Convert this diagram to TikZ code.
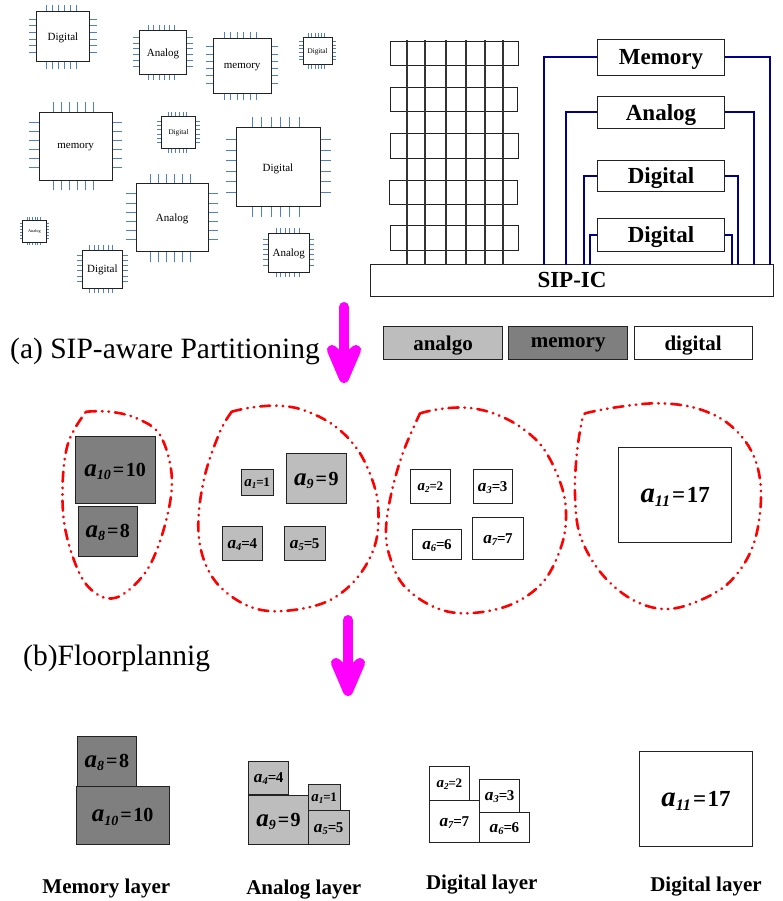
\documentclass[tikz,border=0pt]{standalone}
\usepackage{fontspec}
\setmainfont{Liberation Serif}
\usepackage{xcolor}
\usepackage{tikz}
\definecolor{pinblue}{HTML}{4F7FCB}
\definecolor{wirenavy}{HTML}{00008B}
\definecolor{barink}{HTML}{333333}
\definecolor{edgeink}{HTML}{222222}
\definecolor{analogfill}{HTML}{BDBDBD}
\definecolor{memoryfill}{HTML}{7F7F7F}
\definecolor{flowpink}{HTML}{FF00FF}
\definecolor{loopred}{HTML}{FF0000}
\tikzset{
  pin line/.style={draw=pinblue,line width=1pt},
  chip box/.style={draw=edgeink,line width=.9pt,fill=white,inner sep=0pt,outer sep=0pt,text depth=0pt},
  plain box/.style={draw=edgeink,line width=.8pt,inner sep=0pt,outer sep=0pt,text depth=0pt},
  wire/.style={draw=wirenavy,line width=2pt},
  group loop/.style={draw=loopred,line width=2.6pt,line cap=round,
    dash pattern=on 10pt off 6pt on .5pt off 6pt on .5pt off 6pt},
  layer name/.style={font=\bfseries\fontsize{21}{22}\selectfont},
  step label/.style={anchor=base west,inner sep=0pt,font=\fontsize{29.5}{31}\selectfont},
}
\newcommand{\chip}[8]{% name, x0, y0, x1, y1, pin length, font size, label
  \foreach \i in {0,...,5} {
    \draw[pin line] ({#2+(#4-#2)*(.195+.111*\i)},#3) -- ++(0,-#6);
    \draw[pin line] ({#2+(#4-#2)*(.195+.111*\i)},#5) -- ++(0,#6);
    \draw[pin line] (#2,{#3+(#5-#3)*(.15+.134*\i)}) -- ++(-#6,0);
    \draw[pin line] (#4,{#3+(#5-#3)*(.15+.134*\i)}) -- ++(#6,0);
  }
  \node[chip box,minimum width={(#4-#2)*1pt},minimum height={(#5-#3)*1pt},
    font=\fontsize{#7}{#7}\selectfont] (#1) at ({(#2+#4)/2},{(#3+#5)/2}) {#8};
}
\newcommand{\block}[8]{% name, fill, x0, y0, x1, y1, font size, text
  \node[plain box,fill=#2,minimum width={(#5-#3)*1pt},minimum height={(#6-#4)*1pt},
    font=\bfseries\fontsize{#7}{#7}\selectfont] (#1) at ({(#3+#5)/2},{(#4+#6)/2}) {#8};
}
\newcommand{\flowarrow}[3]{% name, x, top y
  \coordinate (#1) at (#2,#3);
  \draw[draw=flowpink,line width=10pt,line cap=round] (#1) -- ++(0,50);
  \filldraw[draw=flowpink,fill=flowpink,line width=10pt,line join=round]
    ([shift={(-12,43)}]#1) -- ([shift={(0,71)}]#1) -- ([shift={(12,43)}]#1)
    -- ([shift={(0,54)}]#1) -- cycle;
}
\newcommand{\tagwide}[2]{\textit{\scalebox{1.25}{a}\textsubscript{#1}}\kern1.5pt=\kern1.5pt#2}
\newcommand{\tagtight}[2]{\textit{\scalebox{1.15}{a}\textsubscript{#1}}\kern-.5pt=\kern-.5pt#2}

\begin{document}
\begin{tikzpicture}[x=1pt,y=-1pt,line join=miter]
\useasboundingbox (0,0) rectangle (783,901);
\fill[white] (0,0) rectangle (783,901);

% Scattered chips.
\chip{chipa}{36.3}{11.7}{89.7}{61.7}{7}{11}{Digital}
\chip{chipb}{139.3}{30.7}{186.7}{74.3}{6}{11}{Analog}
\chip{chipc}{213.3}{38.7}{271}{93}{7}{11}{memory}
\chip{chipd}{303}{37.3}{332.3}{64.7}{4}{7.2}{Digital}
\chip{chipe}{39.3}{112}{112}{180}{10}{11}{memory}
\chip{chipf}{161.7}{116.7}{195.3}{148.3}{4.3}{7.2}{Digital}
\chip{chipg}{236}{127.7}{320}{206.7}{10.5}{11}{Digital}
\chip{chiph}{136}{183.7}{208.3}{251.7}{10}{11}{Analog}
\chip{chipi}{22.7}{220.3}{46}{242}{3}{4.3}{Analog}
\chip{chipj}{82}{250}{122.7}{288}{5}{11}{Digital}
\chip{chipk}{268.3}{233.3}{309.3}{272}{5}{11}{Analog}

% Stack with through vias.
\draw[plain box] (390.3,41.3) rectangle (518,65.7);
\draw[plain box] (390,87.7) rectangle (517.7,111.7);
\draw[plain box] (390.3,133.7) rectangle (518,158);
\draw[plain box] (389.3,180.3) rectangle (517.3,204.7);
\draw[plain box] (390.3,225.7) rectangle (518,250);

\block{sip}{white}{370.7}{264.7}{773.3}{296}{23}{SIP-IC}
\foreach \x in {407.3,425.3,446,466,485.3,503.3}
  \draw[draw=barink,line width=2pt] (\x,40) -- (\x,0 |- sip.north);

% Dies wired to the interposer.
\block{dmemory}{white}{597.3}{39.3}{724.7}{75}{23}{Memory}
\block{danalog}{white}{597.3}{96.3}{724.7}{128.7}{23}{Analog}
\block{ddigitala}{white}{597.3}{160.7}{724.7}{191.3}{23}{Digital}
\block{ddigitalb}{white}{597.3}{218.7}{724.7}{251.3}{23}{Digital}
\draw[wire] (dmemory.west) -| (544.3,0 |- sip.north);
\draw[wire] (dmemory.east) -| (769.7,0 |- sip.north);
\draw[wire] (danalog.west) -| (566,0 |- sip.north);
\draw[wire] (danalog.east) -| (754.3,0 |- sip.north);
\draw[wire] (ddigitala.west) -| (584,0 |- sip.north);
\draw[wire] (ddigitala.east) -| (738.3,0 |- sip.north);
\draw[wire] (ddigitalb.west) -| (590,0 |- sip.north);
\draw[wire] (ddigitalb.east) -| (732,0 |- sip.north);

% Legend.
\block{keyanalog}{analogfill}{383.7}{326.3}{502.3}{359.3}{21}{analgo}
\block{keymemory}{memoryfill}{508.7}{326.3}{627.7}{359.3}{21}{memory}
\block{keydigital}{white}{634}{326.3}{752.3}{359.3}{21}{digital}

\node[step label] (stepa) at (10,358) {(a) SIP-aware Partitioning};
\node[step label] (stepb) at (23,665) {(b)Floorplannig};
\flowarrow{arrowa}{344}{307}
\flowarrow{arrowb}{348}{620}

% Groups after partitioning.
\draw[group loop] plot[smooth,tension=.6] coordinates {(86,411.7) (110,411.7)
  (136.7,418.3) (160,435) (171.7,475) (166.7,518.3) (150,565) (126.7,591.7)
  (106.7,598.3) (86.7,585) (73.3,558.3) (64,521.7) (62.7,481.7) (66.7,448.3)
  (75,428.3) (86,411.7)};
\draw[group loop] plot[smooth,tension=.6] coordinates {(231.7,411.7) (250,407.7)
  (276.7,405.7) (303.3,410) (333.3,425) (356.7,448.3) (371.7,478.3) (378.3,508.3)
  (375,545) (356.7,578.3) (326.7,601.7) (283.3,611) (250,606.7) (220,586.7)
  (203.3,558.3) (198.3,521.7) (205,475) (220,431.7) (231.7,411.7)};
\draw[group loop] plot[smooth,tension=.6] coordinates {(420,413.3) (440,409)
  (466.7,407.7) (493.3,413.3) (520,426.7) (543.3,448.3) (560,481.7) (566,511.7)
  (561.7,545) (543.3,581.7) (510,605) (466.7,613.3) (433.3,606.7) (403.3,585)
  (389.3,555) (386,528.3) (391.7,491.7) (403.3,451.7) (420,413.3)};
\draw[group loop] plot[smooth,tension=.6] coordinates {(585,413.3) (613.3,407.7)
  (656.7,403.3) (696.7,408.3) (730,425) (753.3,455) (761,495) (753.3,545)
  (730,581.7) (696.7,601.7) (663.3,609) (630,598.3) (600,571.7) (580,535)
  (575,495) (576.7,455) (581.7,421.7) (585,413.3)};

\block{gten}{memoryfill}{75}{436.3}{155.3}{503.3}{20}{\tagwide{10}{10}}
\block{geight}{memoryfill}{78.3}{506.3}{137.3}{556}{20}{\tagwide{8}{8}}
\block{gone}{analogfill}{241.3}{469.7}{273}{495.7}{13}{\tagtight{1}{1}}
\block{gnine}{analogfill}{286.7}{453.7}{346}{503.3}{20}{\tagwide{9}{9}}
\block{gfour}{analogfill}{222.3}{526.7}{262.3}{560.3}{15}{\tagtight{4}{4}}
\block{gfive}{analogfill}{284.3}{526.7}{325}{560.3}{15}{\tagtight{5}{5}}
\block{gtwo}{white}{410.3}{469.7}{450.3}{503}{13}{\tagtight{2}{2}}
\block{gthree}{white}{473}{469.7}{512.3}{503}{15}{\tagtight{3}{3}}
\block{gsix}{white}{412.3}{529.7}{461.7}{559.3}{15}{\tagtight{6}{6}}
\block{gseven}{white}{472.7}{517}{523.3}{559.3}{15}{\tagtight{7}{7}}
\block{geleven}{white}{618.7}{447.7}{731.7}{542.7}{23}{\tagwide{11}{17}}

% Layers after floorplanning.
\block{feight}{memoryfill}{77}{736}{136.7}{786}{20}{\tagwide{8}{8}}
\block{ften}{memoryfill}{76.3}{786.3}{169}{844.3}{20}{\tagwide{10}{10}}
\block{ffour}{analogfill}{248.7}{761}{288.7}{794.7}{15}{\tagtight{4}{4}}
\block{fnine}{analogfill}{248.7}{795}{308.3}{844.3}{20}{\tagwide{9}{9}}
\block{fone}{analogfill}{308.3}{784.3}{340}{810.7}{13}{\tagtight{1}{1}}
\block{ffive}{analogfill}{308.3}{810.7}{349}{844.3}{15}{\tagtight{5}{5}}
\block{ftwo}{white}{429.3}{766.7}{469.3}{800}{13}{\tagtight{2}{2}}
\block{fseven}{white}{429.3}{800.3}{479.3}{842.3}{15}{\tagtight{7}{7}}
\block{fthree}{white}{479.7}{779}{519.7}{812.3}{15}{\tagtight{3}{3}}
\block{fsix}{white}{479.7}{812.3}{529}{842.3}{15}{\tagtight{6}{6}}
\block{feleven}{white}{639.3}{751.7}{752.7}{846.3}{23}{\tagwide{11}{17}}

\node[layer name] (lmemory) at (106.3,888) {Memory layer};
\node[layer name] (lanalog) at (303.7,890) {Analog layer};
\node[layer name] (ldigitala) at (481.7,885) {Digital layer};
\node[layer name] (ldigitalb) at (706,887) {Digital layer};

\end{tikzpicture}
\end{document}
